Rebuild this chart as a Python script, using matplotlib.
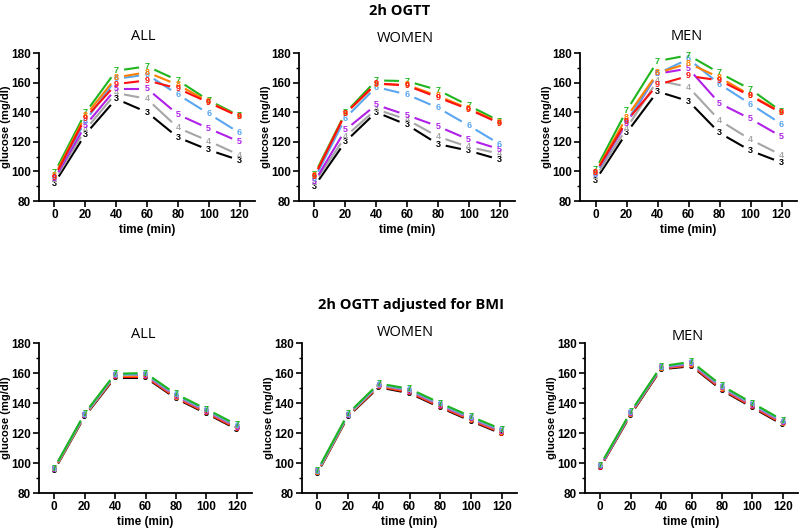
import matplotlib
matplotlib.use("Agg")
import matplotlib.pyplot as plt
import numpy as np
from matplotlib.ticker import MultipleLocator

plt.rcParams['font.family'] = ['Liberation Sans', 'DejaVu Sans']

times = [0, 20, 40, 60, 80, 100, 120]
groups = ['3', '4', '5', '6', '7', '8', '9']
colors = {'3': '#000000', '4': '#a6a6a6', '5': '#b020e8', '6': '#5aa6f0',
          '7': '#1fb51f', '8': '#ff8000', '9': '#ff1010'}

# 2h OGTT
all_raw = {
    '3': [92, 125, 149, 140, 123, 114.5, 107.5],
    '4': [94, 128, 153, 149, 129.5, 120.5, 111],
    '5': [95, 131, 156, 156, 138.5, 129, 120],
    '6': [96, 134, 162.5, 165.5, 152, 139, 126],
    '7': [99, 139.5, 168, 171, 161.5, 148, 137.5],
    '8': [97, 137.5, 163.5, 167, 158.5, 147, 137],
    '9': [96, 136, 159, 161.5, 156, 146.5, 137],
}
women_raw = {
    '3': [90, 120, 140, 131.5, 118.5, 114, 108],
    '4': [92, 123.5, 142, 135, 123.5, 116.5, 112],
    '5': [93, 128, 145, 138, 130.5, 121.5, 115],
    '6': [95, 136, 157, 152, 143, 131, 118.5],
    '7': [98, 139.5, 161.5, 161, 155, 144.5, 134],
    '8': [97, 139, 159, 158.5, 151, 142.5, 133],
    '9': [96.5, 139, 159.5, 158, 150, 142, 132.5],
}
men_raw = {
    '3': [94, 126, 154, 147.5, 126, 114, 106],
    '4': [96, 129, 161.5, 157, 134.5, 121.5, 111],
    '5': [98, 132.5, 166, 169.5, 146, 135.5, 123.5],
    '6': [98, 133.5, 166, 176, 159, 145.5, 132],
    '7': [101, 141, 174.5, 178.5, 166.5, 155.5, 140.5],
    '8': [99.5, 136.5, 166.5, 173, 163.5, 151.5, 140],
    '9': [99, 134, 158.5, 164.5, 161.5, 151, 139.5],
}

# 2h OGTT adjusted for BMI
all_adj = {
    '3': [95, 131, 157, 157, 143, 133, 122.5],
    '9': [95.5, 131.5, 157.5, 157.5, 143.5, 133.5, 123],
    '8': [95.5, 131.5, 158, 158, 144, 134, 123.5],
    '5': [96, 132, 158.5, 158.5, 144.5, 134.5, 124],
    '4': [96, 132, 158.5, 159, 145, 135, 124.5],
    '6': [96.5, 132.5, 159, 159.5, 145.5, 135.5, 125],
    '7': [96.5, 133, 159.5, 160, 146, 136, 125.5],
}
women_adj = {
    '3': [93, 131, 150.5, 146.5, 137, 128, 119.5],
    '9': [93.5, 131.5, 151, 147, 137.5, 128.5, 120],
    '8': [93.5, 131.5, 151.5, 147.5, 138, 129, 120.5],
    '5': [94, 132, 152, 148, 138.5, 129.5, 121],
    '4': [94, 132, 152, 148.5, 139, 130, 121.5],
    '6': [94.5, 132.5, 152.5, 149, 139.5, 130.5, 122],
    '7': [95, 133, 153, 149.5, 140, 131, 122.5],
}
men_adj = {
    '3': [97, 132, 162.5, 164.5, 148.5, 137, 125.5],
    '9': [97, 132.5, 163, 165, 149, 137.5, 126],
    '8': [97.5, 132.5, 163, 165.5, 149.5, 138, 126.5],
    '5': [97.5, 133, 163.5, 166, 150, 138.5, 127],
    '4': [98, 133.5, 164, 166.5, 150.5, 139, 127.5],
    '6': [98, 133.5, 164, 167, 151, 139.5, 128],
    '7': [98.5, 134, 164.5, 167.5, 151.5, 140, 128.5],
}

W, H = 800, 530
fig = plt.figure(figsize=(8, 5.3), dpi=100)


def add_panel(rect_px, xlim):
    l, r, t, b = rect_px
    ax = fig.add_axes([l / W, 1 - b / H, (r - l) / W, (b - t) / H])
    ax.set_xlim(*xlim)
    ax.set_ylim(80, 180)
    return ax


def draw_panel(ax, data, width_px, gap=8):
    trans = ax.transData
    inv = trans.inverted()
    for g, vals in data.items():
        pts = trans.transform(np.column_stack([times, vals]))
        for i in range(len(pts) - 1):
            p0, p1 = pts[i], pts[i + 1]
            d = p1 - p0
            u = d / np.hypot(*d)
            a = inv.transform(p0 + u * gap)
            b = inv.transform(p1 - u * gap)
            ax.plot([a[0], b[0]], [a[1], b[1]], color=colors[g], lw=1.5,
                    solid_capstyle='butt')
        for x, y in zip(times, vals):
            ax.text(x, y, g, color=colors[g], fontsize=6.5, fontweight='bold',
                    ha='center', va='center')
    ax.spines['top'].set_visible(False)
    ax.spines['right'].set_visible(False)
    ax.spines['left'].set_linewidth(1.3)
    ax.spines['bottom'].set_linewidth(1.3)
    ax.set_xticks(times)
    ax.set_yticks([80, 100, 120, 140, 160, 180])
    ax.yaxis.set_minor_locator(MultipleLocator(10))
    ax.tick_params(axis='both', which='major', length=4, width=1.2,
                   labelsize=8.5, pad=2)
    ax.tick_params(axis='y', which='minor', length=2.5, width=1)
    for lab in ax.get_xticklabels() + ax.get_yticklabels():
        lab.set_fontweight('bold')
    ax.set_xlabel('time (min)', fontsize=8.5, fontweight='bold', labelpad=2)
    ax.set_ylabel('glucose (mg/dl)', fontsize=8, fontweight='bold')
    ax.yaxis.set_label_coords(-28 / width_px, 0.5)


panels = [
    ((39, 255, 53, 201), all_raw),
    ((299, 515, 53, 201), women_raw),
    ((580, 797, 53, 201), men_raw),
    ((39, 252, 343, 493), all_adj),
    ((302, 517, 343, 493), women_adj),
    ((585, 798, 343, 493), men_adj),
]
for rect, data in panels:
    ax = add_panel(rect, (-10, 130))
    draw_panel(ax, data, rect[1] - rect[0])

title_font = dict(fontsize=10.5, ha='center', va='center', family=['Open Sans', 'DejaVu Sans'])
fig.text(400 / W, 1 - 11 / H, '2h OGTT', fontweight='bold', **title_font)
fig.text(411 / W, 1 - 305 / H, '2h OGTT adjusted for BMI', fontweight='bold', **title_font)
for x, y, s in [(143, 36, 'ALL'), (405, 39, 'WOMEN'), (687, 36, 'MEN'),
                (143, 335, 'ALL'), (405, 332, 'WOMEN'), (688, 337, 'MEN')]:
    fig.text(x / W, 1 - y / H, s, **title_font)

fig.savefig('out.png', dpi=100)
